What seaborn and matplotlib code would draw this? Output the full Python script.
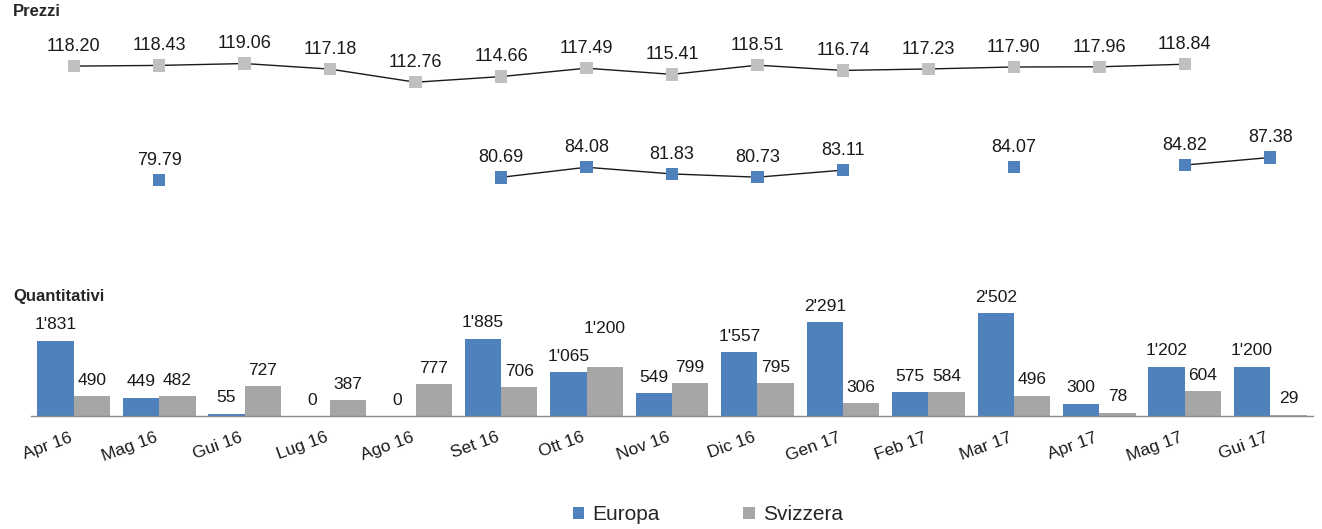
import numpy as np
import pandas as pd
import matplotlib
matplotlib.use("Agg")
import matplotlib.pyplot as plt
from matplotlib.patches import Patch
import seaborn as sns

months = ["Apr 16", "Mag 16", "Gui 16", "Lug 16", "Ago 16", "Set 16", "Ott 16", "Nov 16",
          "Dic 16", "Gen 17", "Feb 17", "Mar 17", "Apr 17", "Mag 17", "Gui 17"]
prezzi_svizzera = [118.20, 118.43, 119.06, 117.18, 112.76, 114.66, 117.49, 115.41,
                   118.51, 116.74, 117.23, 117.90, 117.96, 118.84, np.nan]
prezzi_europa = [np.nan, 79.79, np.nan, np.nan, np.nan, 80.69, 84.08, 81.83,
                 80.73, 83.11, np.nan, 84.07, np.nan, 84.82, 87.38]
quant_europa = [1831, 449, 55, 0, 0, 1885, 1065, 549, 1557, 2291, 575, 2502, 300, 1202, 1200]
quant_svizzera = [490, 482, 727, 387, 777, 706, 1200, 799, 795, 306, 584, 496, 78, 604, 29]
series = ["Europa", "Svizzera"]

BLUE = "#4F81BD"
GREY_BAR = "#A6A6A6"
GREY_MK = "#C0C0C0"

sns.set_theme(style="white")
plt.rcParams["font.family"] = ["Liberation Sans", "DejaVu Sans"]

W, H = 1322, 529
fig = plt.figure(figsize=(W / 100, H / 100), dpi=100)
left = 31 / W
width = 1282 / W
ax_top = fig.add_axes([left, (H - 260) / H, width, 220 / H])
ax_bot = fig.add_axes([left, (H - 416) / H, width, 115 / H])

# ---------- Prezzi ----------
def segments(vals):
    rows = []
    seg = 0
    prev_nan = True
    for i, v in enumerate(vals):
        if np.isnan(v):
            prev_nan = True
            continue
        if prev_nan:
            seg += 1
        prev_nan = False
        rows.append((i, v, seg))
    return pd.DataFrame(rows, columns=["pos", "val", "seg"])

for vals, mcol in [(prezzi_svizzera, GREY_MK), (prezzi_europa, BLUE)]:
    df = segments(vals)
    sns.lineplot(data=df, x="pos", y="val", units="seg", estimator=None,
                 color="#1a1a1a", lw=1, ax=ax_top, legend=False)
    sns.scatterplot(data=df, x="pos", y="val", marker="s", s=80, color=mcol,
                    edgecolor="none", ax=ax_top, legend=False, zorder=3)
    for _, r in df.iterrows():
        ax_top.annotate(f"{r.val:.2f}", (r.pos, r.val), xytext=(0, 8),
                        textcoords="offset points", ha="center", va="bottom",
                        fontsize=13, color="#1a1a1a")

ax_top.set_xlim(-0.5, 14.5)
ax_top.set_ylim(52.8, 127.0)
ax_top.axis("off")

# ---------- Quantitativi ----------
dfq = pd.DataFrame({
    "mese": months * 2,
    "serie": [series[0]] * len(months) + [series[1]] * len(months),
    "val": quant_europa + quant_svizzera,
})
sns.barplot(data=dfq, x="mese", y="val", hue="serie", order=months, hue_order=series,
            palette=[BLUE, GREY_BAR], width=0.85, gap=0, edgecolor="none",
            saturation=1, ax=ax_bot)
ax_bot.get_legend().remove()
for ci, cont in enumerate(ax_bot.containers):
    for bi, bar in enumerate(cont):
        h = bar.get_height()
        off = 6
        # lift a wide label that would collide with its neighbour's label
        e = quant_europa[bi]
        if ci == 1 and h >= 1000 and e >= 1000 and abs(h - e) < 300:
            off = 22
        ax_bot.annotate(f"{int(h):,}".replace(",", "'"),
                        (bar.get_x() + bar.get_width() / 2, h), xytext=(0, off),
                        textcoords="offset points", ha="center", va="bottom",
                        fontsize=12.5, color="#1a1a1a")

ax_bot.set_xlim(-0.5, 14.5)
ax_bot.set_ylim(0, 2800)
ax_bot.set_xlabel("")
ax_bot.set_ylabel("")
ax_bot.set_yticks([])
for s in ["top", "right", "left"]:
    ax_bot.spines[s].set_visible(False)
ax_bot.spines["bottom"].set_color("#8c8c8c")
ax_bot.spines["bottom"].set_linewidth(1)
ax_bot.set_xticks(range(len(months)))
ax_bot.set_xticklabels(months, rotation=20, ha="right", va="top", fontsize=12.5, color="#1a1a1a")
ax_bot.tick_params(axis="x", which="major", length=0, pad=10)
ax_bot.set_xticks(np.arange(-0.5, 15, 1), minor=True)
ax_bot.tick_params(axis="x", which="minor", length=6, color="#8c8c8c", width=1, direction="out")

# ---------- titles ----------
fig.text(13 / W, 1 - 12 / H, "Prezzi", fontsize=12, fontweight="bold", va="center", ha="left")
fig.text(13 / W, 1 - 297 / H, "Quantitativi", fontsize=12, fontweight="bold", va="center", ha="left")

# ---------- legend ----------
handles = [Patch(facecolor=BLUE, edgecolor="none"), Patch(facecolor=GREY_BAR, edgecolor="none")]
fig.legend(handles, series, loc="center", bbox_to_anchor=(708 / W, 1 - 515 / H), ncol=2,
           frameon=False, fontsize=15, handlelength=0.55, handleheight=0.55,
           handletextpad=0.4, columnspacing=4.0)

fig.savefig("out.png", dpi=100)
